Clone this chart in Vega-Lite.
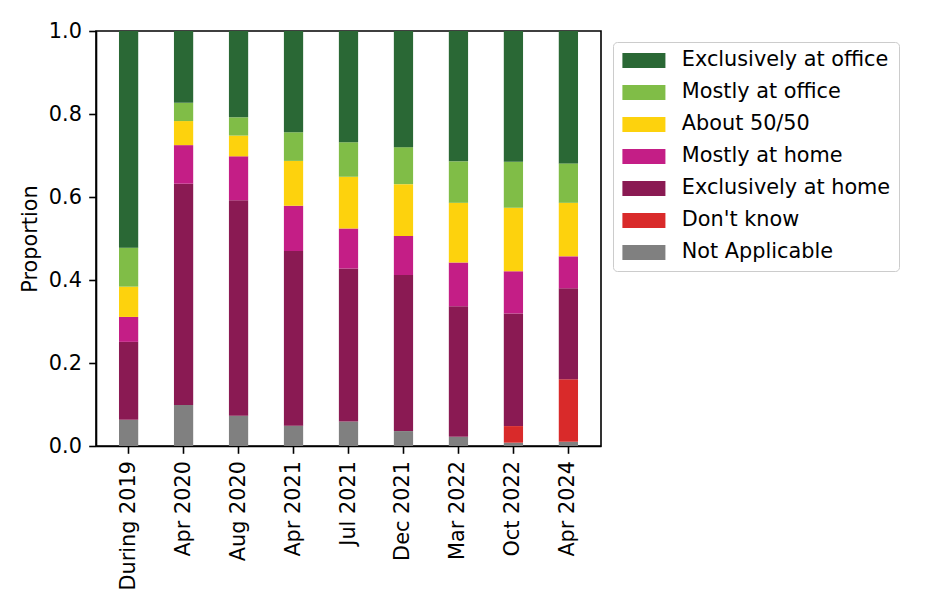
{
  "$schema": "https://vega.github.io/schema/vega-lite/v6.json",
  "width": 505,
  "height": 415,
  "autosize": {"type": "none"},
  "padding": {"left": 96, "top": 31, "right": 330, "bottom": 159},
  "background": "white",
  "config": {
    "font": "DejaVu Sans",
    "view": {"stroke": "black", "strokeWidth": 1.6},
    "axis": {
      "labelFont": "DejaVu Sans", "titleFont": "DejaVu Sans",
      "labelFontSize": 20.8, "titleFontSize": 20.8, "titleFontWeight": "normal",
      "labelColor": "black", "titleColor": "black",
      "domainColor": "black", "domainWidth": 1.6, "tickColor": "black", "tickWidth": 1.6,
      "tickSize": 7.3, "labelPadding": 7.3, "grid": false
    },
    "legend": {
      "labelFont": "DejaVu Sans", "labelFontSize": 20.8, "labelColor": "black"
    }
  },
  "data": {
    "values": [
      {"date": "During 2019", "response": "Not Applicable", "rank": 0, "value": 0.063},
      {"date": "During 2019", "response": "Exclusively at home", "rank": 2, "value": 0.188},
      {"date": "During 2019", "response": "Mostly at home", "rank": 3, "value": 0.060},
      {"date": "During 2019", "response": "About 50/50", "rank": 4, "value": 0.073},
      {"date": "During 2019", "response": "Mostly at office", "rank": 5, "value": 0.094},
      {"date": "During 2019", "response": "Exclusively at office", "rank": 6, "value": 0.522},
      {"date": "Apr 2020", "response": "Not Applicable", "rank": 0, "value": 0.099},
      {"date": "Apr 2020", "response": "Exclusively at home", "rank": 2, "value": 0.533},
      {"date": "Apr 2020", "response": "Mostly at home", "rank": 3, "value": 0.093},
      {"date": "Apr 2020", "response": "About 50/50", "rank": 4, "value": 0.058},
      {"date": "Apr 2020", "response": "Mostly at office", "rank": 5, "value": 0.044},
      {"date": "Apr 2020", "response": "Exclusively at office", "rank": 6, "value": 0.173},
      {"date": "Aug 2020", "response": "Not Applicable", "rank": 0, "value": 0.073},
      {"date": "Aug 2020", "response": "Exclusively at home", "rank": 2, "value": 0.519},
      {"date": "Aug 2020", "response": "Mostly at home", "rank": 3, "value": 0.106},
      {"date": "Aug 2020", "response": "About 50/50", "rank": 4, "value": 0.050},
      {"date": "Aug 2020", "response": "Mostly at office", "rank": 5, "value": 0.044},
      {"date": "Aug 2020", "response": "Exclusively at office", "rank": 6, "value": 0.208},
      {"date": "Apr 2021", "response": "Not Applicable", "rank": 0, "value": 0.049},
      {"date": "Apr 2021", "response": "Exclusively at home", "rank": 2, "value": 0.421},
      {"date": "Apr 2021", "response": "Mostly at home", "rank": 3, "value": 0.109},
      {"date": "Apr 2021", "response": "About 50/50", "rank": 4, "value": 0.108},
      {"date": "Apr 2021", "response": "Mostly at office", "rank": 5, "value": 0.069},
      {"date": "Apr 2021", "response": "Exclusively at office", "rank": 6, "value": 0.244},
      {"date": "Jul 2021", "response": "Not Applicable", "rank": 0, "value": 0.059},
      {"date": "Jul 2021", "response": "Exclusively at home", "rank": 2, "value": 0.369},
      {"date": "Jul 2021", "response": "Mostly at home", "rank": 3, "value": 0.096},
      {"date": "Jul 2021", "response": "About 50/50", "rank": 4, "value": 0.125},
      {"date": "Jul 2021", "response": "Mostly at office", "rank": 5, "value": 0.083},
      {"date": "Jul 2021", "response": "Exclusively at office", "rank": 6, "value": 0.268},
      {"date": "Dec 2021", "response": "Not Applicable", "rank": 0, "value": 0.036},
      {"date": "Dec 2021", "response": "Exclusively at home", "rank": 2, "value": 0.376},
      {"date": "Dec 2021", "response": "Mostly at home", "rank": 3, "value": 0.094},
      {"date": "Dec 2021", "response": "About 50/50", "rank": 4, "value": 0.125},
      {"date": "Dec 2021", "response": "Mostly at office", "rank": 5, "value": 0.089},
      {"date": "Dec 2021", "response": "Exclusively at office", "rank": 6, "value": 0.280},
      {"date": "Mar 2022", "response": "Not Applicable", "rank": 0, "value": 0.022},
      {"date": "Mar 2022", "response": "Exclusively at home", "rank": 2, "value": 0.315},
      {"date": "Mar 2022", "response": "Mostly at home", "rank": 3, "value": 0.105},
      {"date": "Mar 2022", "response": "About 50/50", "rank": 4, "value": 0.144},
      {"date": "Mar 2022", "response": "Mostly at office", "rank": 5, "value": 0.100},
      {"date": "Mar 2022", "response": "Exclusively at office", "rank": 6, "value": 0.314},
      {"date": "Oct 2022", "response": "Not Applicable", "rank": 0, "value": 0.008},
      {"date": "Oct 2022", "response": "Don't know", "rank": 1, "value": 0.040},
      {"date": "Oct 2022", "response": "Exclusively at home", "rank": 2, "value": 0.271},
      {"date": "Oct 2022", "response": "Mostly at home", "rank": 3, "value": 0.102},
      {"date": "Oct 2022", "response": "About 50/50", "rank": 4, "value": 0.153},
      {"date": "Oct 2022", "response": "Mostly at office", "rank": 5, "value": 0.111},
      {"date": "Oct 2022", "response": "Exclusively at office", "rank": 6, "value": 0.315},
      {"date": "Apr 2024", "response": "Not Applicable", "rank": 0, "value": 0.010},
      {"date": "Apr 2024", "response": "Don't know", "rank": 1, "value": 0.151},
      {"date": "Apr 2024", "response": "Exclusively at home", "rank": 2, "value": 0.219},
      {"date": "Apr 2024", "response": "Mostly at home", "rank": 3, "value": 0.077},
      {"date": "Apr 2024", "response": "About 50/50", "rank": 4, "value": 0.129},
      {"date": "Apr 2024", "response": "Mostly at office", "rank": 5, "value": 0.095},
      {"date": "Apr 2024", "response": "Exclusively at office", "rank": 6, "value": 0.319}
    ]
  },
  "mark": {"type": "bar"},
  "encoding": {
    "x": {
      "field": "date", "type": "nominal",
      "sort": ["During 2019", "Apr 2020", "Aug 2020", "Apr 2021", "Jul 2021", "Dec 2021", "Mar 2022", "Oct 2022", "Apr 2024"],
      "scale": {"paddingInner": 0.65, "paddingOuter": 0.418},
      "axis": {"title": null, "labelAngle": -90}
    },
    "y": {
      "field": "value", "type": "quantitative", "stack": "zero",
      "scale": {"domain": [0, 1], "nice": false},
      "axis": {"title": "Proportion", "values": [0, 0.2, 0.4, 0.6, 0.8, 1.0], "format": ".1f", "titlePadding": 8}
    },
    "order": {"field": "rank", "type": "quantitative"},
    "color": {
      "field": "response", "type": "nominal",
      "scale": {
        "domain": ["Exclusively at office", "Mostly at office", "About 50/50", "Mostly at home", "Exclusively at home", "Don't know", "Not Applicable"],
        "range": ["#2a6835", "#80bd47", "#fdd20d", "#c41e86", "#8a1a53", "#d92a2a", "#808080"]
      },
      "legend": {
        "title": null,
        "orient": "none",
        "legendX": 517,
        "legendY": 11,
        "padding": 8,
        "strokeColor": "#cccccc",
        "cornerRadius": 4,
        "fillColor": "white",
        "symbolType": "M-1,-0.833L3.78,-0.833L3.78,0.833L-1,0.833Z",
        "symbolSize": 324,
        "symbolStrokeWidth": 0,
        "symbolOpacity": 1,
        "labelOffset": 40,
        "labelLimit": 400,
        "rowPadding": 10
      }
    }
  }
}
